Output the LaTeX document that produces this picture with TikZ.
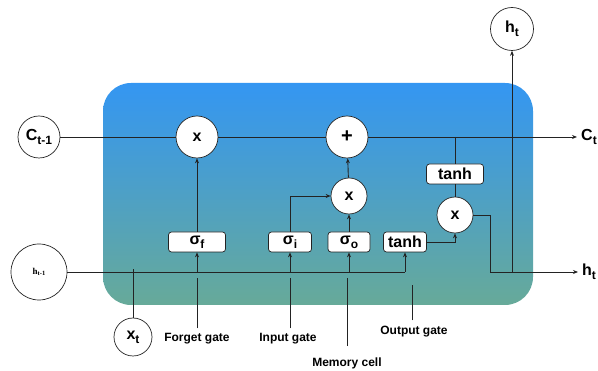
\documentclass[tikz,border=0pt]{standalone}
\usepackage{fontspec}
\setmainfont{Liberation Sans}
\newfontfamily\seriffont{Liberation Serif}
\usepackage{tikz}
\usetikzlibrary{arrows.meta}
\definecolor{cellTop}{RGB}{52,150,242}
\definecolor{cellBot}{RGB}{103,170,153}
\definecolor{lineGray}{RGB}{35,35,35}
\newcommand{\sub}[1]{\raisebox{-0.45ex}{\fontsize{12}{12}\selectfont #1}}

\begin{document}
\begin{tikzpicture}[x=1pt,y=-1pt,
		every node/.style={font=\fontsize{16}{19}\selectfont\bfseries,inner sep=0pt},
		op/.style={circle,draw=lineGray,fill=white,line width=0.7pt,minimum size=#1},
		gate/.style={draw=lineGray,fill=white,rounded corners=3pt,line width=0.7pt,minimum height=20,minimum width=#1},
		tag/.style={font=\fontsize{12}{14}\selectfont\bfseries},
		wire/.style={draw=lineGray,line width=0.9pt},
		>={Stealth[length=5pt,width=4pt]}]
		\useasboundingbox (0,0) rectangle (598,371);
		\shade[top color=cellTop,bottom color=cellBot,rounded corners=28] (103,83) rectangle (533,305);

		% inputs and outputs
		\node[op=42] (cprev) at (39,137)  {C\sub{t-1}};
		\node[op=56] (hprev) at (39,272)  {\seriffont\fontsize{9}{9}\selectfont h\raisebox{-0.4ex}{\fontsize{6.5}{6.5}\selectfont t-1}};
		\node[op=38] (xt)    at (133,337) {x\sub{t}};
		\node[op=43] (ht)    at (512,29)  {h\sub{t}};
		\node[anchor=west] (cnext) at (581,137) {C\sub{t}};
		\node[anchor=west] (hnext) at (582,272) {h\sub{t}};

		% operations
		\node[op=42] (fx)   at (197,137) {x};
		\node[op=42,font=\fontsize{20}{20}\selectfont\bfseries] (plus) at (347,137) {+};
		\node[op=36] (mx)   at (349,196) {x};
		\node[op=36] (ox)   at (455,215) {x};

		% gates
		\node[gate=57] (sf) at (197,242) {σ\sub{f}};
		\node[gate=43] (si) at (290,242) {σ\sub{i}};
		\node[gate=42] (so) at (349,242) {σ\sub{o}};
		\node[gate=43] (lt) at (405,242) {tanh};
		\node[gate=57] (ut) at (455,174) {tanh};

		\coordinate (cj) at (455,137);
		\coordinate (hk) at (490,272);

		% cell state
		\draw[wire] (cprev) -- (fx) -- (plus);
		\draw[wire,->,shorten >=4pt] (plus) -- (cnext);
		\draw[wire] (cj) -- (ut) -- (ox);

		% hidden state
		\draw[wire] (hprev) -- (lt |- hprev);
		\draw[wire] (xt) -- ([yshift=3pt]xt |- hprev);
		\draw[wire,->] (sf |- hprev) -- (sf);
		\draw[wire,->] (si |- hprev) -- (si);
		\draw[wire,->] (so |- hprev) -- (so);
		\draw[wire,->] (lt |- hprev) -- (lt);

		\draw[wire,->] (sf) -- (fx);
		\draw[wire,->] (si) |- (mx);
		\draw[wire,->] (so) -- (mx);
		\draw[wire,->] (mx) -- (plus);
		\draw[wire,->] (lt) -| (ox);
		\draw[wire,->,shorten >=4pt] (ox) -| (hk) -- (hnext);
		\draw[wire,->] (ht |- hprev) -- (ht);

		% labels
		\node[tag] (fgate) at (197,339) {Forget gate};
		\node[tag] (igate) at (288,339) {Input gate};
		\node[tag] (mcell) at (347,363) {Memory cell};
		\node[tag] (ogate) at (414,332) {Output gate};
		\draw[wire] ([yshift=5pt]fgate.north) -- ++(0,-50);
		\draw[wire] ([xshift=2pt,yshift=5pt]igate.north) -- ++(0,-50);
		\draw[wire] ([yshift=11pt]mcell.north) -- ++(0,-68);
		\draw[wire] ([xshift=-2pt,yshift=6pt]ogate.north) -- ++(0,-35);
\end{tikzpicture}
\end{document}
